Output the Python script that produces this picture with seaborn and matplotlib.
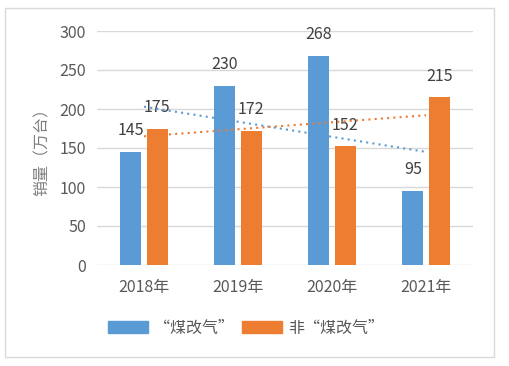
import matplotlib
matplotlib.use("Agg")
import matplotlib.pyplot as plt
import seaborn as sns
import pandas as pd
import numpy as np
from matplotlib.patches import Rectangle

years = ["2018年", "2019年", "2020年", "2021年"]
series_names = ["“煤改气”", "非“煤改气”"]
coal_to_gas = [145, 230, 268, 95]
non_coal_to_gas = [175, 172, 152, 215]
# trendline end values (first and last year)
trend_coal = [203, 145]
trend_non = [165, 192]
y_ticks = [0, 50, 100, 150, 200, 250, 300]

BLUE = "#5B9BD5"
ORANGE = "#ED7D31"
TXT = "#595959"
FS = 11.5

sns.set_theme(style="white")
plt.rcParams["font.family"] = ["Noto Sans CJK SC", "DejaVu Sans"]

df = pd.DataFrame({
    "year": years * 2,
    "series": [series_names[0]] * 4 + [series_names[1]] * 4,
    "value": coal_to_gas + non_coal_to_gas,
})

fig = plt.figure(figsize=(5.09, 3.66), dpi=100)
ax = fig.add_axes([97/509, 1-265/366, (473-97)/509, (265-31)/366])

sns.barplot(data=df, x="year", y="value", hue="series",
            palette=[BLUE, ORANGE], width=0.56, gap=0.2, saturation=1,
            linewidth=0, ax=ax, legend=False)

for cont in ax.containers:
    ax.bar_label(cont, padding=9, fontsize=FS, color="#404040")

# trendlines
ax.plot([0, 3], trend_coal, color=BLUE, lw=1.5, linestyle=(0, (1, 2)), zorder=3)
ax.plot([0, 3], trend_non, color=ORANGE, lw=1.5, linestyle=(0, (1, 2)), zorder=3)

ax.set_ylim(0, 300)
ax.set_xlim(-0.5, 3.5)
ax.set_yticks(y_ticks)
ax.yaxis.grid(True, color="#D9D9D9", lw=1)
ax.set_axisbelow(True)
for s in ax.spines.values():
    s.set_visible(False)
ax.tick_params(axis="both", length=0, labelsize=FS, labelcolor=TXT)
ax.tick_params(axis="x", pad=10)
ax.tick_params(axis="y", pad=8)
ax.set_xlabel("")
ax.set_ylabel("销量（万台）", fontsize=FS, color="#7F7F7F", labelpad=6)

handles = [Rectangle((0, 0), 1, 1, color=BLUE), Rectangle((0, 0), 1, 1, color=ORANGE)]
fig.legend(handles, series_names, loc="center", bbox_to_anchor=(246/509, 1-328/366),
           ncol=2, frameon=False, fontsize=FS, labelcolor=TXT,
           handlelength=2.5, handleheight=0.7, handletextpad=0.4, columnspacing=0.5)

fig.patches.append(Rectangle((5/509, 1-357/366), 489/509, 349/366, transform=fig.transFigure,
                             fill=False, edgecolor="#D9D9D9", lw=1))

fig.savefig("out.png", dpi=100, facecolor="white")
